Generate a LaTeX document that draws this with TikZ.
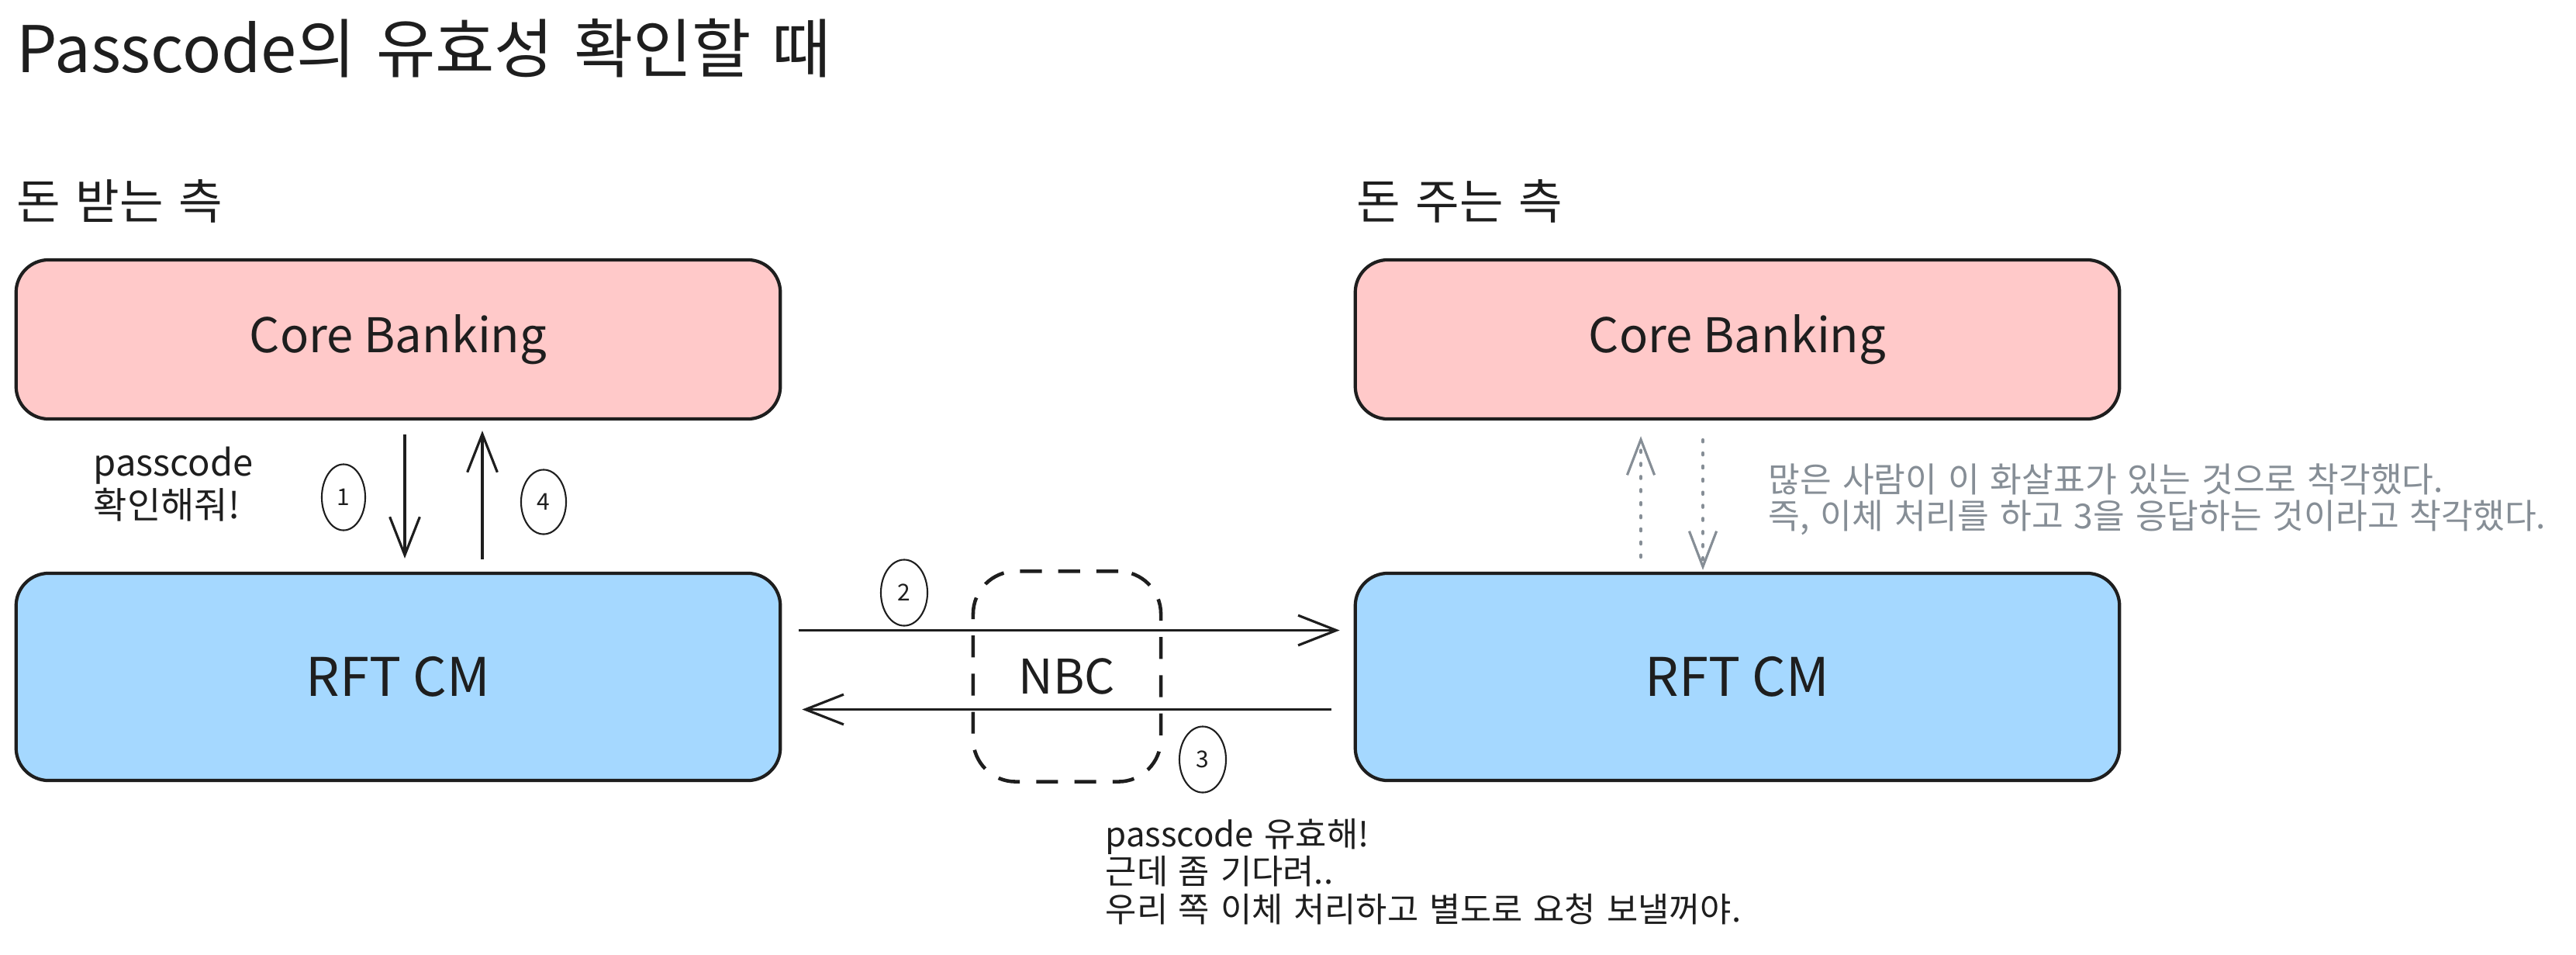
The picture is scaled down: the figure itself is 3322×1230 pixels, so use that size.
\documentclass[tikz,border=0pt]{standalone}
\usepackage{fontspec}
\setmainfont{Noto Sans CJK KR}
\newfontfamily\kfont[WordSpace=1.8]{Noto Sans CJK KR}
\newfontfamily\tfont[WordSpace=1.4]{Noto Sans CJK KR}
\usetikzlibrary{arrows.meta,shapes.geometric,calc}
\definecolor{strk}{HTML}{1E1E1E}
\definecolor{pinkf}{HTML}{FFC9C9}
\definecolor{bluef}{HTML}{A5D8FF}
\definecolor{grayt}{HTML}{868E96}
\begin{document}
\begin{tikzpicture}[x=0.01cm,y=-0.01cm,
  box/.style={draw=strk, line width=1.2pt, rounded corners=0.42cm, minimum width=9.85cm, inner sep=0pt, text=strk, font=\fontsize{17.5}{21}\selectfont},
  cbbox/.style={box, fill=pinkf, minimum height=2.05cm},
  rftbox/.style={box, fill=bluef, minimum height=2.67cm, font=\fontsize{19.5}{23}\selectfont},
  nbcbox/.style={draw=strk, line width=1.3pt, dash pattern=on 8pt off 6pt, rounded corners=0.55cm, minimum width=2.42cm, minimum height=2.71cm, inner sep=0pt, text=strk, font=\fontsize{17.5}{21}\selectfont},
  num/.style={ellipse, draw=strk, line width=0.6pt, inner sep=0pt, text=strk, font=\fontsize{8.5}{10}\selectfont},
  arr/.style={draw=strk, line width=0.9pt, -{Straight Barb[length=14pt,width=11pt,line width=0.9pt]}},
  garr/.style={draw=grayt, line width=1.3pt, dash pattern=on 0.6pt off 4.2pt, line cap=round, -{Straight Barb[length=13pt,width=10pt,line width=0.9pt]}},
  lbl/.style={anchor=base west, inner sep=0pt, text=strk},
  txt/.style={anchor=base west, align=left, inner sep=0pt, text=strk}
]
\fill[white] (0,0) rectangle (3322,1230);
\useasboundingbox (0,0) rectangle (3322,1230);

% titles
\node[lbl, font=\tfont\fontsize{23.6}{28}\selectfont] (title) at (21,93) {Passcode의 유효성 확인할 때};
\node[lbl, font=\kfont\fontsize{17.5}{21}\selectfont] (recv) at (21,282) {돈 받는 측};
\node[lbl, font=\kfont\fontsize{17.5}{21}\selectfont] (send) at (1749,282) {돈 주는 측};

% boxes
\node[cbbox] (cbL) at (513.5,437.5) {Core Banking};
\node[rftbox] (rftL) at (513.5,872.5) {RFT CM};
\node[cbbox] (cbR) at (2240.5,437.5) {Core Banking};
\node[rftbox] (rftR) at (2240.5,872.5) {RFT CM};
\node[nbcbox] (nbc) at (1376,872) {NBC};

% step numbers
\node[num, minimum width=0.56cm, minimum height=0.85cm] (n1) at (443,641) {1};
\node[num, minimum width=0.58cm, minimum height=0.83cm] (n4) at (701,647) {4};
\node[num, minimum width=0.60cm, minimum height=0.85cm] (n2) at (1166,764) {2};
\node[num, minimum width=0.60cm, minimum height=0.85cm] (n3) at (1551,979) {3};

% arrows
\draw[arr] ($(cbL.south)+(8.5,18)$) -- ($(rftL.north)+(8.5,-17)$);
\draw[arr] ($(rftL.north)+(108.5,-16)$) -- ($(cbL.south)+(108.5,13)$);
\draw[arr] ($(rftL.east)+(22,-60)$) -- ($(rftR.west)+(-18,-60)$);
\draw[arr] ($(rftR.west)+(-29,42)$) -- ($(rftL.east)+(26,42)$);

% imagined arrows
\draw[garr] ($(rftR.north)+(-124.5,-19)$) -- ($(cbR.south)+(-124.5,20)$);
\draw[garr] ($(cbR.south)+(-44.5,25)$) -- ($(rftR.north)+(-44.5,-2)$);

% texts (base = last line)
\node[txt, font=\kfont\fontsize{13.4}{15.6}\selectfont] (ask) at (120,668) {passcode\\확인해줘!};
\node[txt, font=\kfont\fontsize{12.45}{13.7}\selectfont] (resp) at (1425,1188) {passcode 유효해!\\근데 좀 기다려..\\우리 쪽 이체 처리하고 별도로 요청 보낼꺼야.};
\node[txt, text=grayt, font=\kfont\fontsize{12.6}{13.3}\selectfont] (note) at (2280,681) {많은 사람이 이 화살표가 있는 것으로 착각했다.\\즉, 이체 처리를 하고 3을 응답하는 것이라고 착각했다.};
\end{tikzpicture}
\end{document}
